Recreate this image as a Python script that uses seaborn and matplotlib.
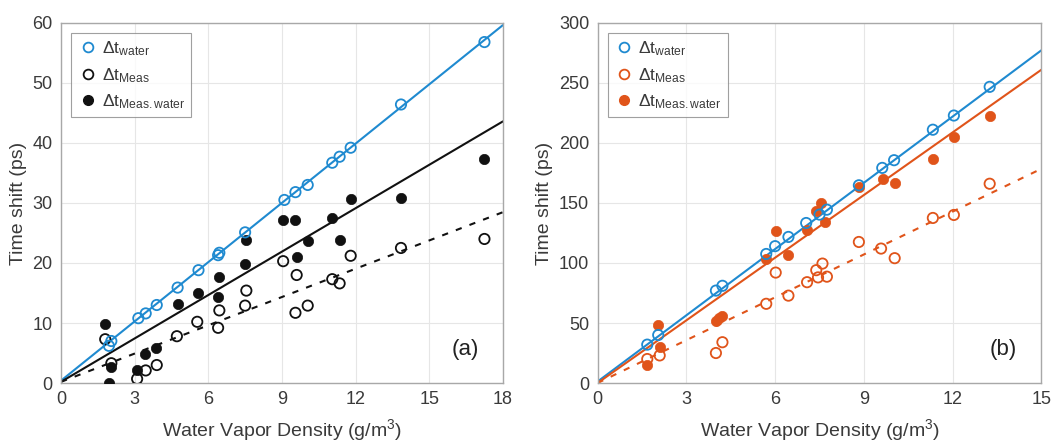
import numpy as np
import pandas as pd
import matplotlib
matplotlib.use('Agg')
import matplotlib.pyplot as plt
from matplotlib.lines import Line2D
import seaborn as sns

# ---- panel (a) data ----
a_water_x = [1.95, 2.05, 3.15, 3.45, 3.9, 4.75, 5.6, 6.4, 6.45, 7.5, 9.1, 9.55, 10.05, 11.05, 11.35, 11.8, 13.85, 17.25]
a_water_y = [6.2, 7.0, 10.8, 11.6, 13.0, 15.9, 18.8, 21.3, 21.7, 25.1, 30.5, 31.8, 33.0, 36.7, 37.7, 39.2, 46.4, 56.8]

a_meas_x = [1.8, 2.05, 3.1, 3.45, 3.9, 4.72, 5.55, 6.4, 6.45, 7.5, 7.55, 9.05, 9.55, 9.6, 10.05, 11.05, 11.35, 11.8, 13.85, 17.25]
a_meas_y = [7.3, 3.3, 0.7, 2.1, 3.0, 7.8, 10.2, 9.2, 12.1, 12.9, 15.4, 20.3, 11.7, 18.0, 12.9, 17.3, 16.6, 21.2, 22.5, 24.0]

a_mw_x = [1.8, 1.95, 2.05, 3.1, 3.42, 3.87, 4.75, 5.6, 6.4, 6.45, 7.5, 7.55, 9.05, 9.55, 9.6, 10.05, 11.05, 11.35, 11.8, 13.85, 17.25]
a_mw_y = [9.8, 0.0, 2.6, 2.1, 4.8, 5.8, 13.2, 15.0, 14.4, 17.6, 19.8, 23.8, 27.2, 27.2, 21.0, 23.6, 27.5, 23.9, 30.7, 30.9, 37.3]

# fitted lines: (intercept, slope)
a_fit_water = (0.4, 3.29)
a_fit_meas = (0.2, 1.57)
a_fit_mw = (0.2, 2.41)

# ---- panel (b) data ----
b_water_x = [1.68, 2.05, 4.0, 4.22, 5.7, 6.0, 6.45, 7.05, 7.5, 7.75, 8.83, 9.62, 10.02, 11.33, 12.04, 13.25]
b_water_y = [32, 40, 77, 81, 107.5, 114, 121.7, 133.3, 140.3, 144.4, 164.7, 179.2, 185.6, 211, 222.8, 246.7]

b_meas_x = [1.68, 2.1, 4.0, 4.22, 5.7, 6.02, 6.45, 7.08, 7.39, 7.45, 7.6, 7.75, 8.83, 9.58, 10.04, 11.33, 12.04, 13.25]
b_meas_y = [20, 23, 25, 34, 66, 92, 72.8, 84, 94, 88, 99.5, 88.6, 117.5, 112, 104, 137.5, 140, 166]

b_mw_x = [1.68, 2.05, 2.1, 4.0, 4.12, 4.22, 5.7, 6.02, 6.45, 7.08, 7.39, 7.56, 7.7, 8.85, 9.64, 10.04, 11.33, 12.04, 13.25]
b_mw_y = [15, 48.5, 30, 51.5, 54, 55.6, 103, 127, 107, 127.8, 143, 150, 134.5, 163, 170, 166.7, 186.7, 205, 222]

b_fit_water = (1.2, 18.4)
b_fit_meas = (0.0, 11.9)
b_fit_mw = (0.0, 17.4)

labels = [r'$\Delta$t$_{\mathrm{water}}$', r'$\Delta$t$_{\mathrm{Meas}}$', r'$\Delta$t$_{\mathrm{Meas.water}}$']

BLUE = '#1f8ad0'
ORANGE = '#e0541a'
BLACK = '#111111'

sns.set_theme(style='whitegrid')
plt.rcParams['font.family'] = ['Liberation Sans Narrow', 'Liberation Sans', 'DejaVu Sans']
plt.rcParams['mathtext.fontset'] = 'custom'
plt.rcParams['mathtext.rm'] = 'Liberation Sans'
plt.rcParams['mathtext.it'] = 'Liberation Sans:italic'

fig = plt.figure(figsize=(10.52, 4.48), dpi=100)
ax_a = fig.add_axes([0.058, 0.145, 0.420, 0.804])
ax_b = fig.add_axes([0.568, 0.145, 0.422, 0.804])


def draw_panel(ax, water, meas, mw, fits, c_meas, xmax, ymax, xstep, ystep, tag):
    wx, wy = water
    mx, my = meas
    vx, vy = mw
    f_w, f_m, f_v = fits
    ax.axline((0, f_w[0]), slope=f_w[1], color=BLUE, lw=1.5, zorder=2)
    ax.axline((0, f_v[0]), slope=f_v[1], color=c_meas, lw=1.5, zorder=2)
    ax.axline((0, f_m[0]), slope=f_m[1], color=c_meas, lw=1.5, ls=(0, (3, 4)), zorder=2)
    sns.scatterplot(x=mx, y=my, ax=ax, marker='o', s=55, facecolor='none',
                    edgecolor=c_meas, linewidth=1.3, zorder=3)
    sns.scatterplot(x=vx, y=vy, ax=ax, marker='o', s=55, color=c_meas,
                    edgecolor=c_meas, linewidth=0.5, zorder=4)
    sns.scatterplot(x=wx, y=wy, ax=ax, marker='o', s=55, facecolor='none',
                    edgecolor=BLUE, linewidth=1.3, zorder=5)
    ax.set_xlim(0, xmax)
    ax.set_ylim(0, ymax)
    ax.set_xticks(np.arange(0, xmax + 0.1, xstep))
    ax.set_yticks(np.arange(0, ymax + 0.1, ystep))
    ax.grid(True, color='#e6e6e6', lw=0.8)
    for s in ax.spines.values():
        s.set_color('#a8a8a8')
        s.set_linewidth(1.0)
    ax.tick_params(axis='both', direction='in', length=4, width=0.8, color='#a8a8a8',
                   labelsize=13, labelcolor='#3a3a3a', pad=6)
    ax.set_xlabel('Water Vapor Density (g/m$^3$)', fontsize=14, color='#3a3a3a', labelpad=6)
    ax.set_ylabel('Time shift (ps)', fontsize=14, color='#3a3a3a', labelpad=4)
    handles = [
        Line2D([], [], ls='none', marker='o', ms=7, mfc='none', mec=BLUE, mew=1.3),
        Line2D([], [], ls='none', marker='o', ms=7, mfc='none', mec=c_meas, mew=1.3),
        Line2D([], [], ls='none', marker='o', ms=7, mfc=c_meas, mec=c_meas),
    ]
    leg = ax.legend(handles, labels, loc='upper left', fontsize=12.5, frameon=True,
                    fancybox=False, edgecolor='#888888', handletextpad=0.2,
                    handlelength=1.2, borderpad=0.35, labelspacing=0.45,
                    borderaxespad=0.6)
    leg.get_frame().set_linewidth(0.8)
    for t in leg.get_texts():
        t.set_color('#3a3a3a')
    ax.text(0.945, 0.065, tag, transform=ax.transAxes, fontsize=16, ha='right',
            va='bottom', color='#222222')


draw_panel(ax_a, (a_water_x, a_water_y), (a_meas_x, a_meas_y), (a_mw_x, a_mw_y),
           (a_fit_water, a_fit_meas, a_fit_mw), BLACK, 18, 60, 3, 10, '(a)')
draw_panel(ax_b, (b_water_x, b_water_y), (b_meas_x, b_meas_y), (b_mw_x, b_mw_y),
           (b_fit_water, b_fit_meas, b_fit_mw), ORANGE, 15, 300, 3, 50, '(b)')

fig.savefig('out.png', dpi=100)
